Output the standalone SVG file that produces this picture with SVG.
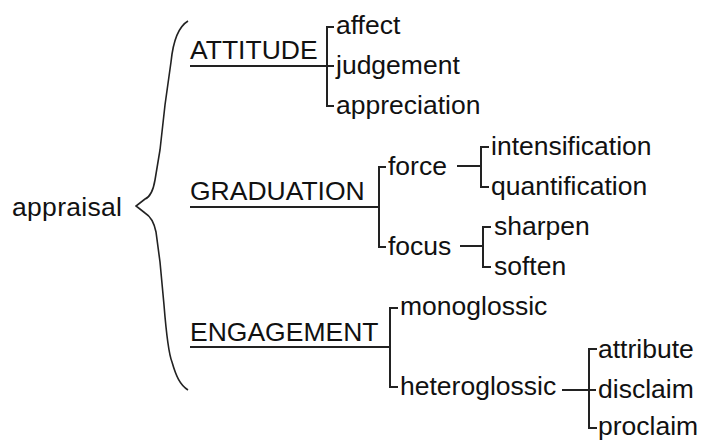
<svg xmlns="http://www.w3.org/2000/svg" width="704" height="441" viewBox="0 0 704 441">
<style>
text{font-family:"Liberation Sans",Arial,sans-serif;font-size:26.5px;fill:#111}
.ln{stroke:#222;stroke-width:2;fill:none}
.br{stroke:#222;stroke-width:1.6;fill:none}
</style>
<rect width="704" height="441" fill="#fff"/>
<g id="connectors">
<path class="br" d="M188,21 C178,27 173,42 171,62 L165,105 L160,150 L155,180 C153,192 150,197 145,199 L136,206 L145,213 C150,216 154,222 156,232 L160,262 L164,305 C166,330 168,352 172,362 C176,376 180,385 188,390"/>
<path class="ln" d="M190,66 H334 M334,27 H327 V106 H334"/>
<path class="ln" d="M190,207 H379 M386,167 H379 V247 H386"/>
<path class="ln" d="M457,166 H481 M489,147 H481 V187 H489"/>
<path class="ln" d="M460,246 H483 M491,227 H483 V267 H491"/>
<path class="ln" d="M190,347 H390 M398,308 H390 V387 H398"/>
<path class="ln" d="M562,390 H596 M597,349 H589 V428 H597"/>
</g>
<g id="appraisal"><text x="12" y="216" textLength="110">appraisal</text></g>
<g id="attitude"><text x="190" y="59">ATTITUDE</text></g>
<g id="affect"><text x="336" y="34">affect</text></g>
<g id="judgement"><text x="336" y="74">judgement</text></g>
<g id="appreciation"><text x="336" y="114">appreciation</text></g>
<g id="graduation"><text x="190" y="200">GRADUATION</text></g>
<g id="force"><text x="388" y="175">force</text></g>
<g id="focus"><text x="388" y="255">focus</text></g>
<g id="intensification"><text x="491" y="155">intensification</text></g>
<g id="quantification"><text x="491" y="195">quantification</text></g>
<g id="sharpen"><text x="494" y="235">sharpen</text></g>
<g id="soften"><text x="494" y="275">soften</text></g>
<g id="engagement"><text x="190" y="341">ENGAGEMENT</text></g>
<g id="monoglossic"><text x="400" y="315">monoglossic</text></g>
<g id="heteroglossic"><text x="400" y="395">heteroglossic</text></g>
<g id="attribute"><text x="598" y="358">attribute</text></g>
<g id="disclaim"><text x="598" y="398">disclaim</text></g>
<g id="proclaim"><text x="598" y="435">proclaim</text></g>
</svg>
